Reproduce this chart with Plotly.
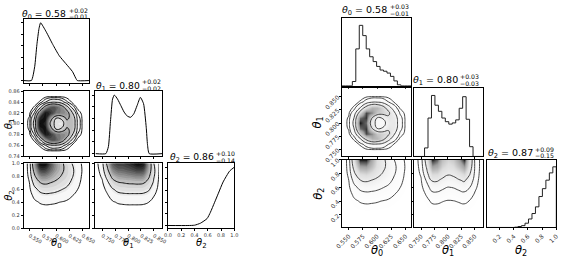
import numpy as np
import plotly.graph_objects as go

W, H = 576, 264
FONT = "DejaVu Sans"

# ---------------- data ----------------
# left corner plot: smooth 1-D densities (peak normalised)
theta0_kde_x = [0.539, 0.5537, 0.5599, 0.564, 0.568, 0.571, 0.5815, 0.594, 0.606, 0.6185, 0.631, 0.637, 0.640, 0.662]
theta0_kde_y = [0, 0, 0.24, 0.62, 0.90, 1.0, 0.845, 0.624, 0.431, 0.293, 0.155, 0.044, 0, 0]
theta1_kde_x = [0.737, 0.757, 0.762, 0.766, 0.770, 0.7735, 0.7797, 0.7861, 0.7923, 0.7986, 0.805,
                0.8112, 0.8175, 0.8239, 0.8301, 0.8352, 0.8377, 0.841, 0.866]
theta1_kde_y = [0, 0, 0.12, 0.55, 0.93, 1.0, 0.93, 0.82, 0.71, 0.64, 0.62, 0.68, 0.82, 0.96, 0.85, 0.45, 0.15, 0, 0]
theta2_kde_x = [0.0, 0.30, 0.40, 0.49, 0.59, 0.64, 0.70, 0.76, 0.83, 0.93, 1.0]
theta2_kde_y = [0, 0, 0.005, 0.04, 0.12, 0.228, 0.39, 0.554, 0.745, 0.935, 1.0]

# right corner plot: 20-bin histograms (peak normalised)
theta0_hist = [0, 0, 0, 0.07, 0.61, 1.0, 0.83, 0.61, 0.48, 0.40, 0.32, 0.26, 0.24, 0.21, 0.155, 0.08, 0.015, 0, 0, 0]
theta1_hist = [0, 0, 0, 0.14, 0.63, 1.0, 0.84, 0.74, 0.63, 0.57, 0.53, 0.55, 0.60, 0.79, 0.98, 0.61, 0.16, 0, 0, 0]
theta2_hist = [0, 0, 0, 0, 0, 0, 0, 0, 0.005, 0.016, 0.03, 0.07, 0.14, 0.23, 0.34, 0.51, 0.64, 0.78, 0.90, 1.0]
hist_range0 = (0.538, 0.660)
hist_range1 = (0.737, 0.866)
hist_range2 = (0.02, 1.0)

# 2-D density grids
grid0 = [0.54, 0.55, 0.56, 0.57, 0.58, 0.59, 0.60, 0.61, 0.62, 0.63, 0.64, 0.65, 0.66]
grid1 = [0.74, 0.75, 0.76, 0.77, 0.78, 0.79, 0.80, 0.81, 0.82, 0.83, 0.84, 0.85, 0.86]
grid2 = [0.0, 0.1, 0.2, 0.3, 0.4, 0.5, 0.6, 0.7, 0.8, 0.9, 1.0]

dens01 = [  # rows: theta1, cols: theta0
    [0, 0, 0, 0, 0, 0, 0, 0, 0, 0, 0, 0, 0],
    [0, 0, 0, 0.002, 0.01, 0.019, 0.02, 0.016, 0.007, 0.001, 0, 0, 0],
    [0, 0, 0.004, 0.025, 0.093, 0.17, 0.18, 0.14, 0.06, 0.015, 0.002, 0, 0],
    [0, 0.002, 0.027, 0.17, 0.44, 0.63, 0.62, 0.47, 0.26, 0.09, 0.01, 0, 0],
    [0, 0.01, 0.11, 0.48, 0.85, 0.75, 0.55, 0.50, 0.44, 0.22, 0.05, 0.005, 0],
    [0, 0.025, 0.22, 0.79, 0.87, 0.43, 0.20, 0.22, 0.37, 0.32, 0.09, 0.01, 0],
    [0, 0.03, 0.26, 0.90, 0.80, 0.29, 0.15, 0.11, 0.30, 0.34, 0.10, 0.01, 0],
    [0, 0.025, 0.22, 0.79, 0.87, 0.43, 0.20, 0.22, 0.37, 0.32, 0.09, 0.01, 0],
    [0, 0.01, 0.11, 0.48, 0.85, 0.75, 0.55, 0.50, 0.44, 0.22, 0.05, 0.005, 0],
    [0, 0.002, 0.027, 0.17, 0.44, 0.63, 0.62, 0.47, 0.26, 0.09, 0.01, 0, 0],
    [0, 0, 0.004, 0.025, 0.093, 0.17, 0.18, 0.14, 0.06, 0.015, 0.002, 0, 0],
    [0, 0, 0, 0.002, 0.01, 0.019, 0.02, 0.016, 0.007, 0.001, 0, 0, 0],
    [0, 0, 0, 0, 0, 0, 0, 0, 0, 0, 0, 0, 0],
]

dens02 = [  # rows: theta2, cols: theta0
    [0, 0, 0, 0, 0, 0, 0, 0, 0, 0, 0, 0, 0],
    [0, 0, 0, 0, 0, 0, 0, 0, 0, 0, 0, 0, 0],
    [0, 0, 0.0015, 0.0026, 0.003, 0.0029, 0.0026, 0.002, 0.0017, 0.001, 0.0005, 0, 0],
    [0, 0.0015, 0.0075, 0.013, 0.015, 0.014, 0.013, 0.0105, 0.008, 0.005, 0.003, 0.001, 0],
    [0, 0.004, 0.02, 0.034, 0.04, 0.038, 0.034, 0.028, 0.022, 0.014, 0.007, 0.002, 0],
    [0, 0.009, 0.045, 0.077, 0.09, 0.086, 0.077, 0.063, 0.05, 0.032, 0.016, 0.0045, 0],
    [0, 0.018, 0.09, 0.153, 0.18, 0.171, 0.153, 0.126, 0.099, 0.063, 0.032, 0.009, 0],
    [0, 0.03, 0.165, 0.294, 0.33, 0.297, 0.254, 0.205, 0.155, 0.099, 0.05, 0.013, 0],
    [0, 0.041, 0.275, 0.51, 0.55, 0.468, 0.374, 0.29, 0.215, 0.132, 0.066, 0.019, 0],
    [0, 0.048, 0.4, 0.776, 0.8, 0.64, 0.472, 0.352, 0.24, 0.144, 0.072, 0.024, 0],
    [0, 0.05, 0.5, 1.0, 1.0, 0.75, 0.5, 0.35, 0.22, 0.12, 0.06, 0.02, 0],
]

dens12 = [  # rows: theta2, cols: theta1 (left plot)
    [0, 0, 0, 0, 0, 0, 0, 0, 0, 0, 0, 0, 0],
    [0, 0, 0, 0, 0, 0, 0, 0, 0, 0, 0, 0, 0],
    [0, 0, 0.001, 0.002, 0.003, 0.003, 0.003, 0.003, 0.003, 0.003, 0.002, 0.001, 0],
    [0, 0.001, 0.004, 0.009, 0.013, 0.014, 0.015, 0.015, 0.015, 0.014, 0.011, 0.005, 0.001],
    [0, 0.002, 0.01, 0.024, 0.034, 0.038, 0.04, 0.04, 0.04, 0.038, 0.03, 0.014, 0.002],
    [0.001, 0.005, 0.023, 0.054, 0.077, 0.086, 0.09, 0.09, 0.09, 0.086, 0.068, 0.032, 0.005],
    [0.002, 0.011, 0.045, 0.108, 0.153, 0.171, 0.18, 0.18, 0.18, 0.171, 0.135, 0.063, 0.009],
    [0.004, 0.021, 0.091, 0.206, 0.276, 0.301, 0.318, 0.323, 0.33, 0.314, 0.223, 0.097, 0.015],
    [0.008, 0.039, 0.165, 0.358, 0.454, 0.481, 0.509, 0.528, 0.55, 0.523, 0.33, 0.129, 0.022],
    [0.014, 0.06, 0.26, 0.54, 0.65, 0.67, 0.71, 0.752, 0.8, 0.76, 0.42, 0.142, 0.028],
    [0.02, 0.08, 0.35, 0.7, 0.8, 0.8, 0.85, 0.92, 1.0, 0.95, 0.45, 0.12, 0.03],
]

dens12_r = [  # rows: theta2, cols: theta1 (right plot, 2-peaked)
    [0, 0, 0, 0, 0, 0, 0, 0, 0, 0, 0, 0, 0],
    [0, 0, 0, 0, 0, 0, 0, 0, 0, 0, 0, 0, 0],
    [0, 0, 0.001, 0.003, 0.003, 0.002, 0.002, 0.002, 0.003, 0.003, 0.002, 0.001, 0],
    [0, 0.001, 0.006, 0.014, 0.015, 0.012, 0.01, 0.011, 0.013, 0.015, 0.011, 0.004, 0],
    [0, 0.003, 0.016, 0.038, 0.04, 0.032, 0.026, 0.028, 0.034, 0.04, 0.028, 0.01, 0.001],
    [0.001, 0.007, 0.036, 0.086, 0.09, 0.072, 0.059, 0.063, 0.077, 0.09, 0.063, 0.023, 0.003],
    [0.002, 0.014, 0.072, 0.171, 0.18, 0.144, 0.117, 0.126, 0.153, 0.18, 0.126, 0.045, 0.005],
    [0.003, 0.025, 0.132, 0.318, 0.322, 0.252, 0.206, 0.223, 0.276, 0.33, 0.215, 0.07, 0.009],
    [0.006, 0.039, 0.22, 0.536, 0.523, 0.399, 0.33, 0.358, 0.454, 0.55, 0.33, 0.096, 0.014],
    [0.008, 0.052, 0.32, 0.79, 0.74, 0.55, 0.46, 0.5, 0.65, 0.8, 0.44, 0.11, 0.018],
    [0.01, 0.06, 0.4, 1.0, 0.9, 0.65, 0.55, 0.6, 0.8, 1.0, 0.5, 0.1, 0.02],
]

# titles
left_median = ["0.58", "0.80", "0.86"]
left_plus = ["+0.02", "+0.02", "+0.10"]
left_minus = ["\u22120.01", "\u22120.02", "\u22120.14"]
right_median = ["0.58", "0.80", "0.87"]
right_plus = ["+0.03", "+0.03", "+0.09"]
right_minus = ["\u22120.01", "\u22120.03", "\u22120.15"]

# tick labels
ticks0 = [0.550, 0.575, 0.600, 0.625, 0.650]
ticks0_txt = ["0.550", "0.575", "0.600", "0.625", "0.650"]
ticks1 = [0.750, 0.775, 0.800, 0.825, 0.850]
ticks1_txt = ["0.750", "0.775", "0.800", "0.825", "0.850"]
ticks1_left = [0.74, 0.76, 0.78, 0.80, 0.82, 0.84, 0.86]
ticks1_left_txt = ["0.74", "0.76", "0.78", "0.80", "0.82", "0.84", "0.86"]
ticks2_left = [0.0, 0.2, 0.4, 0.6, 0.8, 1.0]
ticks2_left_txt = ["0.0", "0.2", "0.4", "0.6", "0.8", "1.0"]
ticks2_right = [0.2, 0.4, 0.6, 0.8, 1.0]
ticks2_right_txt = ["0.2", "0.4", "0.6", "0.8", "1.0"]
kde_yticks = [0, 0.2, 0.4, 0.6, 0.8, 1.0]

# ---------------- figure ----------------
fig = go.Figure()
layout = {}
count = [0]


def add_panel(xpx, ypx, xr, yr, xt=None, xtl=None, yt=None, ytl=None, side="L"):
    count[0] += 1
    i = count[0]
    s = "" if i == 1 else str(i)
    tf = dict(family=FONT, size=5 if side == "L" else 6, color="#333")
    common = dict(showgrid=False, zeroline=False, showline=True, mirror=True,
                  linecolor="black", linewidth=1, ticks="outside", ticklen=2,
                  tickwidth=0.8, tickcolor="black", tickfont=tf, fixedrange=True)
    xa = dict(common, domain=[xpx[0] / W, xpx[1] / W], range=list(xr), anchor="y" + s)
    ya = dict(common, domain=[1 - ypx[1] / H, 1 - ypx[0] / H], range=list(yr), anchor="x" + s)
    for ax, t, tl in ((xa, xt, xtl), (ya, yt, ytl)):
        if t is None:
            ax["showticklabels"] = False
            ax["tickvals"] = []
        else:
            ax["tickmode"] = "array"
            ax["tickvals"] = t
            if tl is None:
                ax["showticklabels"] = False
            else:
                ax["ticktext"] = tl
                if side == "R":
                    ax["tickangle"] = -45
    layout["xaxis" + s] = xa
    layout["yaxis" + s] = ya
    return "x" + s, "y" + s


def ann(text, x, y, size, xanchor="center", yanchor="middle", angle=0):
    fig.add_annotation(text=text, x=x / W, y=1 - y / H, xref="paper", yref="paper",
                       xanchor=xanchor, yanchor=yanchor, showarrow=False, textangle=angle,
                       borderpad=0, font=dict(family=FONT, size=size, color="black"))


def title(idx, med, plus, minus, x_end, y, size):
    ann(f"<i>θ</i><sub>{idx}</sub> = {med}", x_end, y, size, xanchor="right")
    ann(plus, x_end + 0.5, y - 4.2, 6.2, xanchor="left")
    ann(minus, x_end + 0.5, y + 2.6, 6.2, xanchor="left")


def step_hist(counts, rng, xa, ya):
    edges = np.linspace(rng[0], rng[1], len(counts) + 1)
    xs = [edges[0]] + list(edges)
    ys = [0] + list(counts) + [0]
    fig.add_trace(go.Scatter(x=xs, y=ys, mode="lines", line=dict(color="#222", width=1, shape="hv"),
                             xaxis=xa, yaxis=ya, hoverinfo="skip"))


def line_levels(z, xg, yg, xa, ya, levels, color, width):
    for lv in levels:
        fig.add_trace(go.Contour(z=z, x=xg, y=yg, xaxis=xa, yaxis=ya, showscale=False,
                                 contours=dict(coloring="none", start=lv, end=lv, size=1),
                                 line=dict(color=color, width=width, smoothing=1.3),
                                 hoverinfo="skip"))


def filled(z, xg, yg, xa, ya, levels):
    zmax = max(max(r) for r in z)
    fig.add_trace(go.Contour(z=z, x=xg, y=yg, xaxis=xa, yaxis=ya, showscale=False,
                             zmin=0, zmax=zmax,
                             colorscale=[[0, "#ffffff"], [0.04, "#fbfbfb"], [0.35, "#bdbdbd"],
                                         [0.7, "#555555"], [1, "#000000"]],
                             contours=dict(coloring="fill", start=zmax * 0.03, end=zmax * 0.99,
                                           size=zmax * 0.06),
                             line=dict(width=0, smoothing=1.3), hoverinfo="skip"))
    line_levels(z, xg, yg, xa, ya, levels, "black", 0.9)


def pixels(z, xg, yg, xa, ya, levels):
    zmax = max(max(r) for r in z)
    fig.add_trace(go.Heatmap(z=z, x=xg, y=yg, xaxis=xa, yaxis=ya, showscale=False, zmin=0, zmax=zmax,
                             zsmooth="best",
                             colorscale=[[0, "#ffffff"], [0.2, "#f7f7f7"], [0.5, "#dedede"],
                                         [0.8, "#a0a0a0"], [0.95, "#454545"], [1, "#151515"]],
                             hoverinfo="skip"))
    line_levels(z, xg, yg, xa, ya, levels, "#333333", 0.9)


# ---- left corner plot ----
LX = [(17, 84), (90.7, 159), (165, 233)]
LY = [(16.7, 83.3), (91.7, 159.3), (166.7, 234)]
R0L, R1L, R2L = (0.539, 0.662), (0.737, 0.866), (0.0, 1.0)
kde_r = (-0.045, 1.065)

xa, ya = add_panel(LX[0], LY[0], R0L, kde_r, xt=ticks0, yt=kde_yticks)
fig.add_trace(go.Scatter(x=theta0_kde_x, y=theta0_kde_y, mode="lines", xaxis=xa, yaxis=ya,
                         line=dict(color="black", width=1, shape="spline", smoothing=0.5), hoverinfo="skip"))
xa, ya = add_panel(LX[0], LY[1], R0L, (0.74, 0.86), xt=ticks0, yt=ticks1_left, ytl=ticks1_left_txt)
filled(dens01, grid0, grid1, xa, ya, [0.02, 0.05, 0.1, 0.2, 0.35])
xa, ya = add_panel(LX[1], LY[1], R1L, kde_r, xt=ticks1, yt=kde_yticks)
fig.add_trace(go.Scatter(x=theta1_kde_x, y=theta1_kde_y, mode="lines", xaxis=xa, yaxis=ya,
                         line=dict(color="black", width=1, shape="spline", smoothing=0.5), hoverinfo="skip"))
xa, ya = add_panel(LX[0], LY[2], R0L, R2L, xt=ticks0, xtl=ticks0_txt, yt=ticks2_left, ytl=ticks2_left_txt)
filled(dens02, grid0, grid2, xa, ya, [0.03, 0.12, 0.3])
xa, ya = add_panel(LX[1], LY[2], R1L, R2L, xt=ticks1, xtl=ticks1_txt, yt=ticks2_left)
filled(dens12, grid1, grid2, xa, ya, [0.03, 0.12, 0.3])
xa, ya = add_panel(LX[2], LY[2], R2L, kde_r, xt=ticks2_left, xtl=ticks2_left_txt, yt=kde_yticks)
fig.add_trace(go.Scatter(x=theta2_kde_x, y=theta2_kde_y, mode="lines", xaxis=xa, yaxis=ya,
                         line=dict(color="black", width=1, shape="spline", smoothing=0.5), hoverinfo="skip"))

title(0, left_median[0], left_plus[0], left_minus[0], 62, 11.7, 9.2)
title(1, left_median[1], left_plus[1], left_minus[1], 137, 86.3, 9.2)
title(2, left_median[2], left_plus[2], left_minus[2], 213, 160.7, 9.2)
ann("<i>θ</i><sub>0</sub>", 50.5, 249.5, 10)
ann("<i>θ</i><sub>1</sub>", 125, 249.5, 10)
ann("<i>θ</i><sub>2</sub>", 199, 249.5, 10)
ann("<i>θ</i><sub>1</sub>", 2.5, 125.5, 10, angle=-90)
ann("<i>θ</i><sub>2</sub>", 2.5, 200, 10, angle=-90)

# ---- right corner plot ----
RX = [(343.3, 414.3), (417.3, 488.3), (491.7, 563)]
RY = [(15.7, 86), (88.5, 159.5), (162.7, 233.3)]
hist_r = (0, 1.12)

xa, ya = add_panel(RX[0], RY[0], hist_range0, hist_r, xt=ticks0, side="R")
step_hist(theta0_hist, hist_range0, xa, ya)
xa, ya = add_panel(RX[0], RY[1], hist_range0, hist_range1, xt=ticks0, yt=ticks1, ytl=ticks1_txt, side="R")
pixels(dens01, grid0, grid1, xa, ya, [0.02, 0.06, 0.2, 0.4])
xa, ya = add_panel(RX[1], RY[1], hist_range1, hist_r, xt=ticks1, side="R")
step_hist(theta1_hist, hist_range1, xa, ya)
xa, ya = add_panel(RX[0], RY[2], hist_range0, hist_range2, xt=ticks0, xtl=ticks0_txt,
                   yt=ticks2_right, ytl=ticks2_right_txt, side="R")
pixels(dens02, grid0, grid2, xa, ya, [0.03, 0.12, 0.3])
xa, ya = add_panel(RX[1], RY[2], hist_range1, hist_range2, xt=ticks1, xtl=ticks1_txt, yt=ticks2_right, side="R")
pixels(dens12_r, grid1, grid2, xa, ya, [0.03, 0.12, 0.3])
xa, ya = add_panel(RX[2], RY[2], hist_range2, hist_r, xt=ticks2_right, xtl=ticks2_right_txt, side="R")
step_hist(theta2_hist, hist_range2, xa, ya)

title(0, right_median[0], right_plus[0], right_minus[0], 391, 8.3, 9.5)
title(1, right_median[1], right_plus[1], right_minus[1], 463, 81, 9.5)
title(2, right_median[2], right_plus[2], right_minus[2], 540, 156, 9.5)
ann("<i>θ</i><sub>0</sub>", 379, 257, 11.5)
ann("<i>θ</i><sub>1</sub>", 452, 257, 11.5)
ann("<i>θ</i><sub>2</sub>", 527, 257, 11.5)
ann("<i>θ</i><sub>1</sub>", 318, 124, 11.5, angle=-90)
ann("<i>θ</i><sub>2</sub>", 319, 198, 11.5, angle=-90)

fig.update_layout(width=W, height=H, margin=dict(l=0, r=0, t=0, b=0), showlegend=False,
                  paper_bgcolor="white", plot_bgcolor="white", **layout)
fig.write_html("out.html")
